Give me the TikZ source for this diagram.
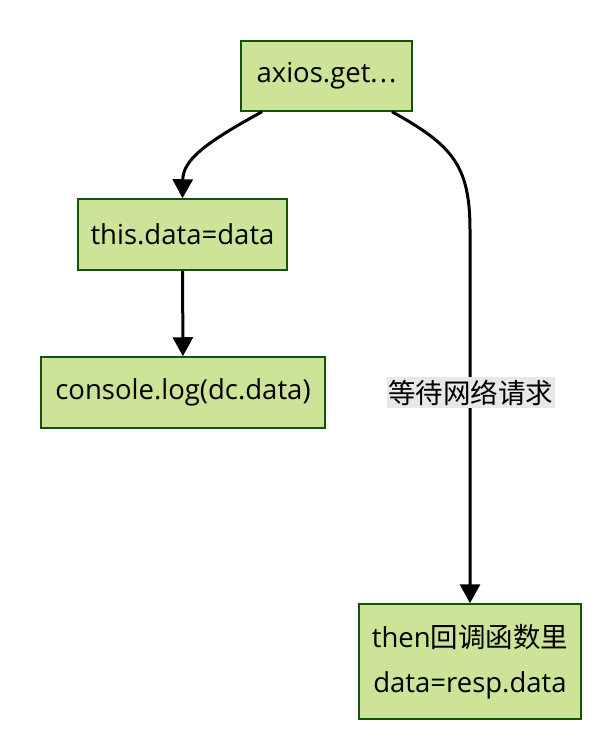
\documentclass[tikz,border=0pt]{standalone}
\usepackage{fontspec}
\setmainfont{Open Sans}
\newfontfamily\cjk{Noto Sans CJK SC}
\usepackage{xcolor}
\usepackage{tikz}
\usetikzlibrary{arrows.meta}
\usetikzlibrary{positioning}
\definecolor{boxfill}{HTML}{CDE498}
\definecolor{boxline}{HTML}{13540C}
\definecolor{labelbg}{HTML}{E8E8E8}

\begin{document}
\begin{tikzpicture}[x=1pt,y=-1pt,
		box/.style={draw=boxline,line width=1.5pt,fill=boxfill,inner sep=0pt,align=center,font=\fontsize{27.5}{45}\selectfont},
		flow/.style={line width=3pt,-{Triangle[width=20pt,length=19pt]}}]
		\useasboundingbox (0,0) rectangle (610,739);
		\node[box,minimum width=171,minimum height=70] (get) at (326.5,76) {axios.get.\kern2pt.\kern2pt.};
		\node[box,minimum width=209,minimum height=71] (setdata) at (182.5,234.5) {this.data=data};
		\node[box,minimum width=284,minimum height=71] (log) at (183,392.5) {console.log(dc.data)};
		\node[box,minimum width=222,minimum height=115] (then) at (470,661.5) {then{\cjk 回调函数里}\\data=resp.data};
		\draw[flow] ([xshift=-64.5pt]get.south) .. controls (205,143) and (183,160) .. (setdata.north);
		\draw[flow] (setdata) -- (log);
		\draw[flow] ([xshift=65.5pt]get.south) .. controls (452,145) and (470,165) .. (470,230) -- (then.north);
		\node[fill=labelbg,inner sep=0pt,minimum width=168,minimum height=31,font=\fontsize{27.5}{31}\cjk] (wait) at (470.5,392.5) {等待网络请求};
	\end{tikzpicture}
\end{document}
